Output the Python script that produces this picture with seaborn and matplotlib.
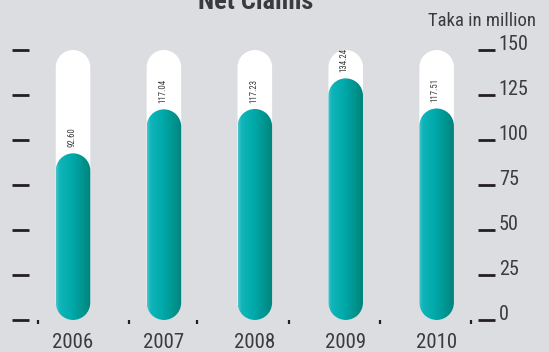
import numpy as np
import pandas as pd
import matplotlib
matplotlib.use("Agg")
import matplotlib.pyplot as plt
import seaborn as sns
from matplotlib.path import Path
from matplotlib.patches import PathPatch
from matplotlib.colors import LinearSegmentedColormap

# Net claims per year (Taka in million)
years = ["2006", "2007", "2008", "2009", "2010"]
net_claims = [92.60, 117.04, 117.23, 134.24, 117.51]
y_ticks = [0, 25, 50, 75, 100, 125, 150]
scale_max = 150
# small decorative marks along the baseline (category units)
divider_marks = [-0.388, 0.619, 1.367, 2.373, 3.377, 4.382]

sns.set_theme(style="white")
FONT = ["Roboto Condensed", "Archivo Narrow", "DejaVu Sans"]
plt.rcParams["font.family"] = FONT
BG = "#dcdde0"
INK = "#3b3b3d"
TICK = "#231f20"

W, H = 549, 352
fig = plt.figure(figsize=(W / 100, H / 100), dpi=100, facecolor=BG)
ax = fig.add_axes([29.3 / W, 32 / H, 448.7 / W, 270 / H])
ax.set_facecolor(BG)

df = pd.DataFrame({"year": years, "claims": net_claims})
sns.barplot(data=df, x="year", y="claims", ax=ax, width=0.38,
            color="#00a5a6", errorbar=None)
ax.set_xlim(-0.481, 4.455)
ax.set_ylim(0, scale_max)

# data units per pixel, used to keep the rounded caps circular
p0, p1 = ax.transData.transform([[0, 0], [1, 1]])
xu = 1.0 / (p1[0] - p0[0])
yu = 1.0 / (p1[1] - p0[1])


def pill_path(cx, bottom, top, rx, ry):
    arc_top = Path.arc(0, 180)
    arc_bot = Path.arc(180, 360)
    vt = arc_top.vertices * [rx, ry] + [cx, top - ry]
    vb = arc_bot.vertices * [rx, ry] + [cx, bottom + ry]
    codes_b = arc_bot.codes.copy()
    codes_b[0] = Path.LINETO
    verts = np.vstack([vt, vb, vt[:1]])
    codes = np.concatenate([arc_top.codes, codes_b, [Path.CLOSEPOLY]])
    return Path(verts, codes)


teal = LinearSegmentedColormap.from_list(
    "teal", [(0.0, "#4ac5cb"), (0.1, "#10b6ba"), (0.45, "#00a9aa"), (1.0, "#00847b")])
grad = np.linspace(0, 1, 256).reshape(1, -1)

bars = list(ax.patches)
for bar, val in zip(bars, net_claims):
    x0, w, h = bar.get_x(), bar.get_width(), bar.get_height()
    bar.remove()
    cx = x0 + w / 2
    rx = w / 2
    ry = (rx / xu) * yu
    # white track spanning the full scale
    track = PathPatch(pill_path(cx, 0, scale_max, rx, ry), facecolor="white",
                      edgecolor="none", zorder=2, clip_on=False)
    ax.add_patch(track)
    # gradient-filled value bar
    shape = PathPatch(pill_path(cx, 0, h, rx, ry), facecolor="none",
                      edgecolor="none", zorder=3, clip_on=False)
    ax.add_patch(shape)
    im = ax.imshow(grad, cmap=teal, extent=[x0, x0 + w, 0, h], aspect="auto",
                   origin="lower", zorder=3, interpolation="bilinear")
    im.set_clip_path(shape)
    ax.text(cx - 1.5 * xu, h + 6 * yu, f"{val:.2f}", rotation=90, ha="center",
            va="bottom", fontsize=6.3, color=INK, zorder=5)

ax.set_xlim(-0.481, 4.455)
ax.set_ylim(0, scale_max)
ax.set_xlabel("")
ax.set_ylabel("")
for s in ax.spines.values():
    s.set_visible(False)

ax.set_yticks(y_ticks)
ax.set_yticklabels([str(t) for t in y_ticks])
ax.tick_params(axis="y", which="major", left=True, right=True, labelleft=False,
               labelright=True, direction="out", length=12, width=2,
               color=TICK, pad=3, labelsize=14.5, labelcolor=INK)
for t in ax.yaxis.get_major_ticks():
    t.label2.set_va("baseline")

ax.set_xticks(range(len(years)))
ax.set_xticklabels(years)
ax.tick_params(axis="x", which="major", bottom=True, length=0, pad=9,
               labelsize=15, labelcolor=INK)
ax.set_xticks(divider_marks, minor=True)
ax.tick_params(axis="x", which="minor", bottom=True, direction="out",
               length=3, width=1.6, color=TICK)

fig.text(255.7 / W, 1 - 9 / H, "Net Claims", ha="center", va="baseline",
         fontsize=19, fontweight="bold", color=INK)
fig.text(536 / W, 1 - 26 / H, "Taka in million", ha="right", va="baseline",
         fontsize=13.5, color=INK)

fig.savefig("out.png", dpi=100, facecolor=BG)
